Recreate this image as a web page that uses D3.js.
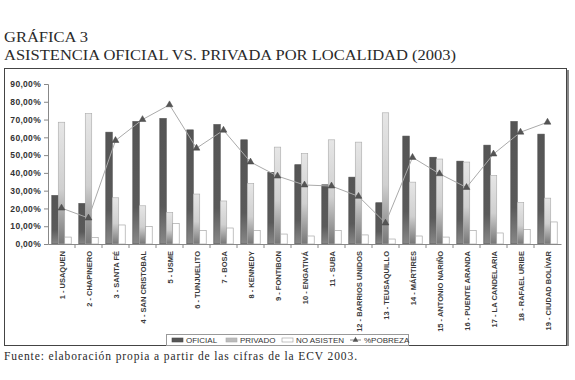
<!DOCTYPE html>
<html>
<head>
<meta charset="utf-8">
<script src="https://cdn.jsdelivr.net/npm/d3@7"></script>
<style>
  body { margin: 0; background: #fff; }
  svg { display: block; }
</style>
</head>
<body>
<svg id="chart"></svg>
<script>
const categories = ['1 - USAQUEN', '2 - CHAPINERO', '3 - SANTA FÉ', '4 - SAN CRISTOBAL', '5 - USME',
    '6 - TUNJUELITO', '7 - BOSA', '8 - KENNEDY', '9 - FONTIBON', '10 - ENGATIVÁ', '11 - SUBA',
    '12 - BARRIOS UNIDOS', '13 - TEUSAQUILLO', '14 - MÁRTIRES', '15 - ANTONIO NARIÑO',
    '16 - PUENTE ARANDA', '17 - LA CANDELARIA', '18 - RAFAEL URIBE', '19 - CIUDAD BOLÍVAR'];
const oficial = [27.3, 22.8, 62.9, 68.9, 70.6, 64.2, 67.2, 58.6, 40.3, 44.6, 33.3, 37.6, 23.2, 60.7, 48.8, 46.6, 55.6, 68.9, 61.8];
const privado = [68.5, 73.4, 26.0, 21.5, 17.8, 28.1, 24.2, 34.1, 54.5, 50.9, 58.6, 57.3, 73.8, 34.8, 47.8, 46.1, 38.6, 23.4, 25.8];
const noAsisten = [3.9, 3.7, 10.7, 9.9, 11.6, 7.7, 9.0, 7.7, 5.6, 4.5, 7.7, 5.1, 2.8, 4.5, 3.9, 7.7, 6.2, 8.2, 12.4];
const pobreza = [20.2, 14.6, 58.2, 70.0, 78.3, 53.9, 64.0, 46.1, 38.2, 33.2, 32.6, 26.8, 11.8, 48.7, 39.5, 31.8, 50.6, 62.9, 68.5];
const seriesNames = ['OFICIAL', 'PRIVADO', 'NO ASISTEN'];
const yTicks = [0, 10, 20, 30, 40, 50, 60, 70, 80, 90];

const W = 575, H = 380;
const plot = { left: 48, right: 561, top: 84, bottom: 244 };

const svg = d3.select('#chart').attr('width', W).attr('height', H);
const sans = 'Liberation Sans, Arial, sans-serif';
const serif = 'Liberation Serif, Times New Roman, serif';

// Gradients
const defs = svg.append('defs');
const gOf = defs.append('linearGradient').attr('id', 'gOf').attr('x1', 0).attr('y1', 0).attr('x2', 0).attr('y2', 1);
gOf.append('stop').attr('offset', 0).attr('stop-color', '#555');
gOf.append('stop').attr('offset', 0.7).attr('stop-color', '#5a5a5a');
gOf.append('stop').attr('offset', 1).attr('stop-color', '#888');
const gPr = defs.append('linearGradient').attr('id', 'gPr').attr('x1', 0).attr('y1', 0).attr('x2', 0).attr('y2', 1);
gPr.append('stop').attr('offset', 0).attr('stop-color', '#e6e6e6');
gPr.append('stop').attr('offset', 0.55).attr('stop-color', '#d0d0d0');
gPr.append('stop').attr('offset', 1).attr('stop-color', '#777');

const fills = { 'OFICIAL': 'url(#gOf)', 'PRIVADO': 'url(#gPr)', 'NO ASISTEN': '#fff' };
const strokes = { 'OFICIAL': '#4a4a4a', 'PRIVADO': '#aaa', 'NO ASISTEN': '#999' };

// Titles
svg.append('text').attr('x', 4).attr('y', 42)
    .attr('font-family', serif).attr('font-size', '15px').attr('fill', '#2a2a2a')
    .attr('textLength', 84).attr('lengthAdjust', 'spacingAndGlyphs')
    .text('GRÁFICA 3');
svg.append('text').attr('x', 4).attr('y', 60)
    .attr('font-family', serif).attr('font-size', '15px').attr('fill', '#2a2a2a')
    .attr('textLength', 452).attr('lengthAdjust', 'spacingAndGlyphs')
    .text('ASISTENCIA OFICIAL VS. PRIVADA POR LOCALIDAD (2003)');

// Frame
svg.append('rect').attr('x', 566).attr('y', 70).attr('width', 3).attr('height', 276).attr('fill', '#888');
svg.append('rect').attr('x', 4.5).attr('y', 68.5).attr('width', 562).attr('height', 277)
    .attr('fill', 'none').attr('stroke', '#444').attr('stroke-width', 1);

// Scales
const x0 = d3.scaleBand().domain(categories).range([plot.left, plot.right]).padding(0);
const x1 = d3.scaleBand().domain(seriesNames).range([3.8, x0.bandwidth() - 3.8]).padding(0);
const y = d3.scaleLinear().domain([0, 90]).range([plot.bottom, plot.top]);

// Y axis
const yAxis = svg.append('g').attr('transform', `translate(${plot.left},0)`)
    .call(d3.axisLeft(y).tickValues(yTicks).tickSize(4).tickPadding(3)
        .tickFormat(d => d.toFixed(2).replace('.', ',') + '%'));
yAxis.select('.domain').attr('stroke', '#888');
yAxis.selectAll('line').attr('stroke', '#888');
yAxis.selectAll('text').attr('font-family', sans).attr('font-size', '8.5px')
    .attr('font-weight', 'bold').attr('fill', '#333').attr('letter-spacing', '0.3px');

// Bars
const rows = categories.map((c, i) => ({
    cat: c,
    vals: [
        { s: 'OFICIAL', v: oficial[i] },
        { s: 'PRIVADO', v: privado[i] },
        { s: 'NO ASISTEN', v: noAsisten[i] }
    ]
}));
const groups = svg.selectAll('.grp').data(rows).enter().append('g')
    .attr('transform', d => `translate(${x0(d.cat)},0)`);
groups.selectAll('rect').data(d => d.vals).enter().append('rect')
    .attr('x', d => x1(d.s))
    .attr('width', x1.bandwidth())
    .attr('y', d => y(d.v))
    .attr('height', d => plot.bottom - y(d.v))
    .attr('fill', d => fills[d.s])
    .attr('stroke', d => strokes[d.s]).attr('stroke-width', 0.6);

// X axis
const xAxis = svg.append('g').attr('transform', `translate(0,${plot.bottom})`)
    .call(d3.axisBottom(x0).tickSize(0).tickFormat(''));
xAxis.select('.domain').attr('stroke', '#888');
svg.append('g').selectAll('line')
    .data(categories.slice(1))
    .enter().append('line')
    .attr('x1', d => x0(d)).attr('x2', d => x0(d))
    .attr('y1', plot.bottom).attr('y2', plot.bottom + 4)
    .attr('stroke', '#888');

svg.append('g').selectAll('text').data(categories).enter().append('text')
    .attr('transform', d => `translate(${x0(d) + x0.bandwidth() / 2 + 3},${plot.bottom + 7}) rotate(-90)`)
    .attr('text-anchor', 'end')
    .attr('font-family', sans).attr('font-size', '7.5px').attr('font-weight', 'bold').attr('fill', '#3a3a3a')
    .text(d => d);

// %POBREZA line
const cx = d => x0(d) + x0.bandwidth() / 2;
const line = d3.line().x(d => cx(d.cat)).y(d => y(d.v));
const pts = categories.map((c, i) => ({ cat: c, v: pobreza[i] }));
svg.append('path').datum(pts).attr('d', line)
    .attr('fill', 'none').attr('stroke', '#aaa').attr('stroke-width', 1);
const tri = d3.symbol().type(d3.symbolTriangle).size(20);
svg.append('g').selectAll('path').data(pts).enter().append('path')
    .attr('d', tri)
    .attr('transform', d => `translate(${cx(d.cat)},${y(d.v)})`)
    .attr('fill', '#555').attr('stroke', '#444').attr('stroke-width', 0.5);

// Legend
const lg = svg.append('g').attr('transform', 'translate(166,334)');
lg.append('rect').attr('x', 0.5).attr('y', 0.5).attr('width', 242).attr('height', 11)
    .attr('fill', '#fff').attr('stroke', '#999');
const legendItems = [
    { name: 'OFICIAL', x: 6 },
    { name: 'PRIVADO', x: 60 },
    { name: 'NO ASISTEN', x: 116 },
    { name: '%POBREZA', x: 184 }
];
legendItems.forEach(it => {
    const g = lg.append('g').attr('transform', `translate(${it.x},6)`);
    if (it.name === '%POBREZA') {
        g.append('line').attr('x1', 0).attr('x2', 11).attr('stroke', '#888');
        g.append('path').attr('d', d3.symbol().type(d3.symbolTriangle).size(14))
            .attr('transform', 'translate(5.5,0)').attr('fill', '#555');
    } else {
        g.append('rect').attr('x', 0).attr('y', -2).attr('width', 11).attr('height', 4)
            .attr('fill', it.name === 'OFICIAL' ? '#555' : it.name === 'PRIVADO' ? '#bbb' : '#fff')
            .attr('stroke', strokes[it.name]).attr('stroke-width', 0.6);
    }
    g.append('text').attr('x', 14).attr('y', 2.8)
        .attr('font-family', sans).attr('font-size', '8px').attr('fill', '#333')
        .text(it.name);
});

// Source
svg.append('text').attr('x', 4).attr('y', 360)
    .attr('font-family', serif).attr('font-size', '11.5px').attr('fill', '#2a2a2a')
    .attr('textLength', 353).attr('lengthAdjust', 'spacing')
    .text('Fuente: elaboración propia a partir de las cifras de la ECV 2003.');
</script>
</body>
</html>
